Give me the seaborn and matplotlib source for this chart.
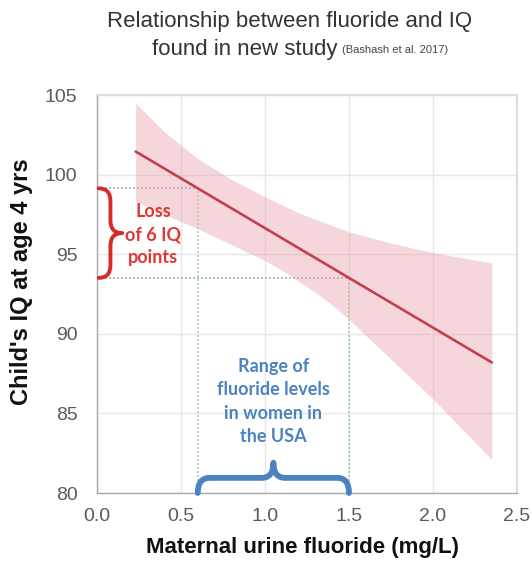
import numpy as np
import pandas as pd
import matplotlib
matplotlib.use("Agg")
import matplotlib.pyplot as plt
from matplotlib.path import Path
from matplotlib.patches import PathPatch
from matplotlib.ticker import MultipleLocator
import seaborn as sns

# ---- data ----
fluoride = [0.23, 2.35]
iq_fit = [101.45, 88.2]
band_x = [0.23, 0.4, 0.6, 0.8, 1.0, 1.1, 1.2, 1.3, 1.4, 1.5, 1.75, 2.0, 2.35]
band_upper = [104.5, 102.7, 101.0, 99.7, 98.6, 98.1, 97.6, 97.2, 96.8, 96.4, 95.7, 95.1, 94.45]
band_lower = [98.3, 97.5, 96.6, 95.6, 94.6, 94.0, 93.3, 92.6, 91.8, 90.9, 88.4, 85.9, 82.1]
usa_range = [0.6, 1.5]
x_ticks = [0.0, 0.5, 1.0, 1.5, 2.0, 2.5]
y_ticks = [80, 85, 90, 95, 100, 105]

title_main = "Relationship between fluoride and IQ"
title_sub = "found in new study"
title_ref = "(Bashash et al. 2017)"
xlabel = "Maternal urine fluoride (mg/L)"
ylabel = "Child's IQ at age 4 yrs"
loss_text = "Loss\nof 6 IQ\npoints"
range_text = "Range of\nfluoride levels\nin women in\nthe USA"

sns.set_style("white")
plt.rcParams["font.family"] = ["Liberation Sans", "DejaVu Sans"]

W, H = 532, 567
fig = plt.figure(figsize=(W / 100, H / 100), dpi=100)
ax = fig.add_axes([97 / W, 1 - 493 / H, 420 / W, 398 / H])

# grid
ax.set_xlim(x_ticks[0], x_ticks[-1])
ax.set_ylim(y_ticks[0], y_ticks[-1])
ax.set_xticks(x_ticks)
ax.set_yticks(y_ticks)
ax.xaxis.set_minor_locator(MultipleLocator(0.1))
ax.yaxis.set_minor_locator(MultipleLocator(1))
ax.grid(True, which="major", color="#e6e6e6", lw=1.0, zorder=0)
ax.set_axisbelow(True)

# confidence band + fitted line
ax.fill_between(band_x, band_lower, band_upper, color="#e8a0ab", alpha=0.42, lw=0, zorder=2)
df = pd.DataFrame({"fluoride": fluoride, "iq": iq_fit})
sns.lineplot(data=df, x="fluoride", y="iq", ax=ax, color="#c2404d", lw=1.9, zorder=3)

# reference dotted lines
iq_lo = float(np.interp(usa_range[0], fluoride, iq_fit))
iq_hi = float(np.interp(usa_range[1], fluoride, iq_fit))
ax.plot([0, usa_range[0]], [iq_lo, iq_lo], ls=(0, (1.2, 1.2)), color="#a5adb8", lw=1.2, zorder=1.5)
ax.plot([0, usa_range[1]], [iq_hi, iq_hi], ls=(0, (1.2, 1.2)), color="#a5adb8", lw=1.2, zorder=1.5)
ax.plot([usa_range[0], usa_range[0]], [y_ticks[0], iq_lo], ls=(0, (1.2, 1.2)), color="#a9d4a9", lw=1.2, zorder=1.5)
ax.plot([usa_range[1], usa_range[1]], [y_ticks[0], iq_hi], ls=(0, (1.2, 1.2)), color="#a9d4a9", lw=1.2, zorder=1.5)


def vbrace(x0, ytop, ybot, w, r):
    xm = x0 + w / 2
    xt = x0 + w
    ym = (ytop + ybot) / 2
    verts = [(x0, ytop), (xm, ytop), (xm, ytop - r), (xm, ym + r),
             (xm, ym), (xt, ym), (xm, ym), (xm, ym - r), (xm, ybot + r),
             (xm, ybot), (x0, ybot)]
    codes = [Path.MOVETO, Path.CURVE3, Path.CURVE3, Path.LINETO,
             Path.CURVE3, Path.CURVE3, Path.CURVE3, Path.CURVE3, Path.LINETO,
             Path.CURVE3, Path.CURVE3]
    return Path(verts, codes)


def hbrace(xl, xr, y0, h, r):
    ym = y0 + h / 2
    yt = y0 + h
    xm = (xl + xr) / 2
    verts = [(xl, y0), (xl, ym), (xl + r, ym), (xm - r, ym),
             (xm, ym), (xm, yt), (xm, ym), (xm + r, ym), (xr - r, ym),
             (xr, ym), (xr, y0)]
    codes = [Path.MOVETO, Path.CURVE3, Path.CURVE3, Path.LINETO,
             Path.CURVE3, Path.CURVE3, Path.CURVE3, Path.CURVE3, Path.LINETO,
             Path.CURVE3, Path.CURVE3]
    return Path(verts, codes)


red = "#d92a2a"
blue = "#4c82c2"
ax.add_patch(PathPatch(vbrace(0.01, iq_lo, iq_hi, 0.14, 0.8), fill=False,
                       ec=red, lw=2.8, capstyle="round", joinstyle="round",
                       clip_on=False, zorder=5))
ax.add_patch(PathPatch(hbrace(usa_range[0], usa_range[1], y_ticks[0], 1.9, 0.07), fill=False,
                       ec=blue, lw=4.2, capstyle="round", joinstyle="round",
                       clip_on=False, zorder=5))

ax.text(0.335, (iq_lo + iq_hi) / 2 - 0.1, loss_text, color="#e03535", fontsize=13,
        fontweight="bold", ha="center", va="center", linespacing=1.45,
        family=["Lato", "DejaVu Sans"], zorder=6)
ax.text(np.mean(usa_range), 85.75, range_text, color=blue, fontsize=13,
        fontweight="bold", ha="center", va="center", linespacing=1.45,
        family=["Lato", "DejaVu Sans"], zorder=6)

# axes styling
for s in ["left", "bottom"]:
    ax.spines[s].set_color("#a8a8a8")
    ax.spines[s].set_linewidth(1.0)
for s in ["top", "right"]:
    ax.spines[s].set_color("#dddddd")
    ax.spines[s].set_linewidth(1.5)
ax.tick_params(which="major", direction="inout", length=6, width=1, color="#a8a8a8",
               labelsize=14, labelcolor="#5a5a5a", pad=8)
ax.tick_params(which="minor", direction="inout", length=4, width=0.8, color="#bdbdbd")
ax.tick_params(axis="y", which="major", pad=11)
ax.set_xticklabels([f"{v:.1f}" for v in x_ticks])
ax.set_yticklabels([str(v) for v in y_ticks])
ax.set_xlabel("")
ax.set_ylabel("")

fig.text(303 / W, 1 - 547 / H, xlabel, ha="center", va="center", fontsize=16,
         fontweight="bold", color="#111111")
fig.text(22 / W, 1 - 282 / H, ylabel, ha="center", va="center", rotation=90,
         fontsize=17, fontweight="bold", color="#111111")

fig.text(290 / W, 1 - 22 / H, title_main, ha="center", va="center", fontsize=16,
         color="#333333")
t2 = fig.text(245 / W, 1 - 49 / H, title_sub, ha="center", va="center", fontsize=16,
              color="#333333")
ax.annotate(title_ref, xy=(1, 0.22), xycoords=t2, xytext=(3, 0),
            textcoords="offset points", fontsize=8, color="#444444",
            ha="left", va="bottom", annotation_clip=False)

fig.savefig("out.png", dpi=100)
